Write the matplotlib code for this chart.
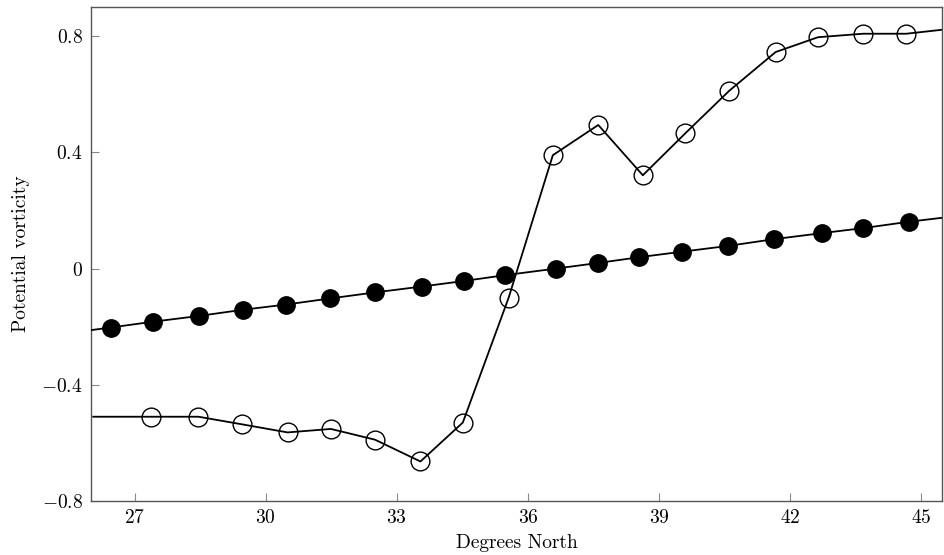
import matplotlib
matplotlib.use("Agg")
import matplotlib.pyplot as plt

plt.rcParams['font.family'] = 'serif'
plt.rcParams['font.serif'] = ['cmr10']
plt.rcParams['mathtext.fontset'] = 'cm'
plt.rcParams['axes.formatter.use_mathtext'] = True

# filled series (first and last points are the line ends at the frame, no marker)
lat_filled = [26.0, 26.45, 27.42, 28.48, 29.47, 30.46, 31.47, 32.51, 33.57, 34.53, 35.47,
              36.65, 37.60, 38.55, 39.53, 40.59, 41.63, 42.74, 43.67, 44.72, 45.5]
pv_filled = [-0.212, -0.203, -0.183, -0.163, -0.142, -0.124, -0.103, -0.082, -0.062, -0.043, -0.023,
             0.0, 0.019, 0.039, 0.058, 0.078, 0.101, 0.122, 0.139, 0.161, 0.175]

# open series
lat_open = [26.05, 27.38, 28.46, 29.45, 30.50, 31.49, 32.50, 33.54, 34.51, 35.56,
            36.57, 37.61, 38.63, 39.60, 40.61, 41.67, 42.64, 43.67, 44.66, 45.5]
pv_open = [-0.510, -0.510, -0.510, -0.536, -0.564, -0.552, -0.589, -0.664, -0.530, -0.100,
           0.390, 0.494, 0.321, 0.465, 0.612, 0.745, 0.796, 0.808, 0.808, 0.822]

xticks = [27, 30, 33, 36, 39, 42, 45]
yticks = [-0.8, -0.4, 0, 0.4, 0.8]
ytick_labels = ['$-0.8$', '$-0.4$', '$0$', '$0.4$', '$0.8$']

fig = plt.figure(figsize=(9.44, 5.55), dpi=100)
ax = fig.add_axes([0.0964, 0.0973, 0.9016, 0.8901])

ax.plot(lat_open, pv_open, color='black', lw=1.3, marker='o', markersize=13.5,
        markerfacecolor='none', markeredgecolor='black', markeredgewidth=1.0,
        markevery=list(range(1, len(lat_open) - 1)), zorder=2)
ax.plot(lat_filled, pv_filled, color='black', lw=1.3, marker='o', markersize=12.5,
        markerfacecolor='black', markeredgecolor='black',
        markevery=list(range(1, len(lat_filled) - 1)), zorder=3)

ax.set_xlim(26.0, 45.48)
ax.set_ylim(-0.8, 0.9)
ax.set_xticks(xticks)
ax.set_xticklabels(['$%d$' % t for t in xticks])
ax.set_yticks(yticks)
ax.set_yticklabels(ytick_labels)
ax.tick_params(direction='in', length=6, width=0.8, color='#888888', labelsize=14, pad=6)

for s in ax.spines.values():
    s.set_color('#555555')
    s.set_linewidth(1.0)

ax.set_xlabel('Degrees North', fontsize=14, labelpad=5)
ax.set_ylabel('Potential vorticity', fontsize=14, labelpad=8)

fig.savefig('out.png', dpi=100)
